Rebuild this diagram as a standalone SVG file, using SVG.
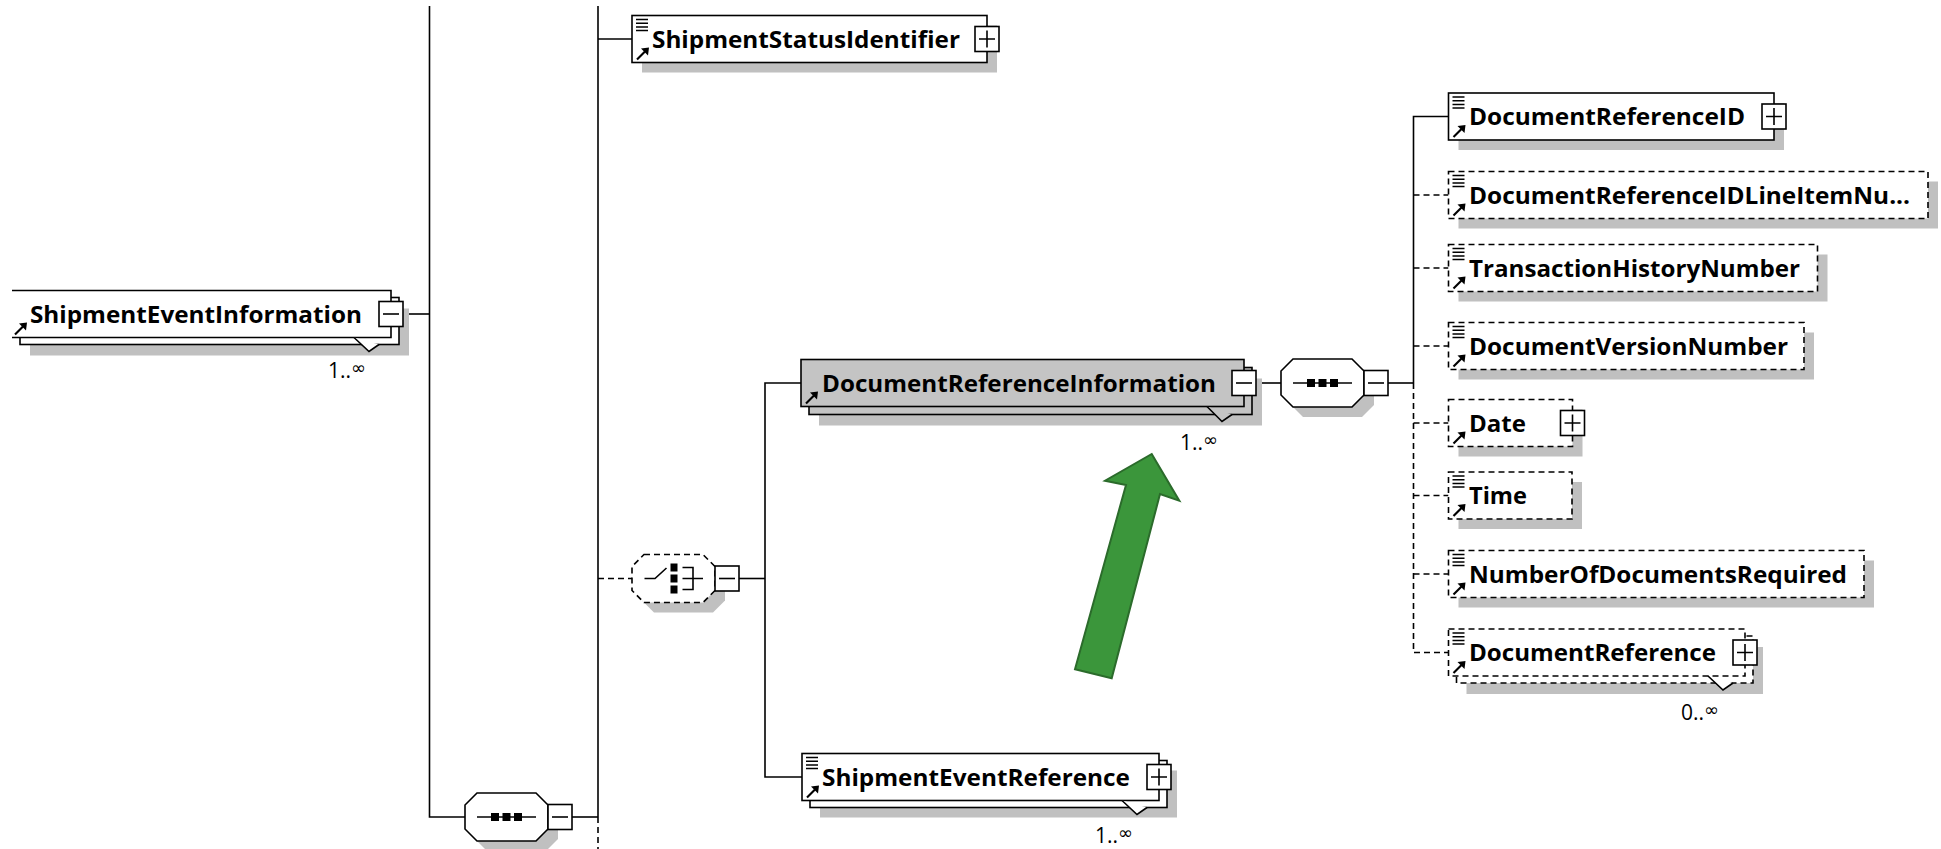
<svg xmlns="http://www.w3.org/2000/svg" xmlns:xlink="http://www.w3.org/1999/xlink" width="1941" height="849" viewBox="0 0 1941 849">
<defs>
<style>
.ln{fill:none;stroke:#000;stroke-width:1.6}
.dl{fill:none;stroke:#000;stroke-width:1.6;stroke-dasharray:6 4}
.box{fill:#fff;stroke:#000;stroke-width:1.6}
.dbox{fill:#fff;stroke:#000;stroke-width:1.6;stroke-dasharray:6 4}
.gbox{fill:#c4c4c4;stroke:#000;stroke-width:1.6}
.sh{fill:#c0c0c0;stroke:none}
.pm{fill:#fff;stroke:#000;stroke-width:1.6}
.lbl{font-family:"Open Sans","Noto Sans","DejaVu Sans",sans-serif;font-weight:700;font-size:23px;fill:#000}
.mult{font-family:"Open Sans","Noto Sans","DejaVu Sans",sans-serif;font-size:21px;fill:#000}
.inf{font-family:"DejaVu Sans",sans-serif;font-size:18px}
.sq{fill:#000}
</style>
<g id="ico-list" class="ln"><path d="M0 0H12M0 3.7H12M0 7.4H12M0 11.1H12" style="stroke-width:1.5"/></g>
<g id="ico-ref"><path d="M0 0L8 -8" style="fill:none;stroke:#000;stroke-width:2.2"/><polygon points="12,-12 4,-11 11,-4" fill="#000"/></g>
</defs>

<g id="connectors">
<path class="ln" d="M403 314H429.5"/>
<path class="ln" d="M429.5 6V817H465"/>
<path class="ln" d="M572 817H598"/>
<path class="ln" d="M598 6V817"/>
<path class="dl" d="M598 817V849"/>
<path class="ln" d="M598 39H632"/>
<path class="dl" d="M598 578.5H632"/>
<path class="ln" d="M739 578.5H765"/>
<path class="ln" d="M801 383H765V777H802"/>
<path class="ln" d="M1256 383H1281"/>
<path class="ln" d="M1388 383H1413.5"/>
<path class="ln" d="M1448.5 116.5H1413.5V383"/>
<path class="dl" d="M1413.5 383V652.5H1448.5"/>
<path class="dl" d="M1413.5 195H1448.5M1413.5 268H1448.5M1413.5 346H1448.5M1413.5 423H1448.5M1413.5 495.5H1448.5M1413.5 574H1448.5"/>
</g>

<g id="node-ShipmentEventInformation">
<rect class="sh" x="30" y="308.5" width="379" height="47"/>
<rect class="box" x="20" y="297.5" width="379" height="47"/>
<rect x="12" y="290.5" width="379" height="47" fill="#fff"/>
<path class="ln" d="M12 290.5H391V337.5H12"/>
<path d="M354 337.5L369 351.5L379 344.5" fill="#fff" stroke="#000" stroke-width="1.6"/>
<use xlink:href="#ico-ref" x="15" y="334.5"/>
<text class="lbl" x="30" y="322.5" textLength="332" lengthAdjust="spacingAndGlyphs">ShipmentEventInformation</text>
<rect class="pm" x="379" y="301.5" width="24" height="25"/>
<path class="ln" d="M383 314H399"/>
<text class="mult" x="328" y="378">1..<tspan class="inf" dy="-4">∞</tspan></text>
</g>

<g id="node-ShipmentStatusIdentifier">
<rect class="sh" x="642" y="25.5" width="355" height="47"/>
<rect class="box" x="632" y="15.5" width="355" height="47"/>
<use xlink:href="#ico-list" x="636" y="19.5"/>
<use xlink:href="#ico-ref" x="637" y="59.5"/>
<text class="lbl" x="652" y="47.5" textLength="308" lengthAdjust="spacingAndGlyphs">ShipmentStatusIdentifier</text>
<rect class="pm" x="975" y="26.5" width="24" height="25"/>
<path class="ln" d="M979 39H995M987 30.5V47.5"/>
</g>

<g id="node-sequence-left">
<polygon class="sh" points="487,803 546,803 558,815 558,839 546,851 487,851 475,839 475,815"/>
<polygon class="box" points="477,793 536,793 548,805 548,829 536,841 477,841 465,829 465,805"/>
<path class="ln" d="M477 817H536"/>
<rect class="sq" x="491" y="813" width="8" height="8"/>
<rect class="sq" x="502.5" y="813" width="8" height="8"/>
<rect class="sq" x="514" y="813" width="8" height="8"/>
<rect class="pm" x="548" y="804.5" width="24" height="25"/>
<path class="ln" d="M552 817H568"/>
</g>

<g id="node-choice">
<polygon class="sh" points="654,564.5 713,564.5 725,576.5 725,600.5 713,612.5 654,612.5 642,600.5 642,576.5"/>
<polygon class="dbox" points="644,554.5 703,554.5 715,566.5 715,590.5 703,602.5 644,602.5 632,590.5 632,566.5"/>
<path class="ln" d="M644.5 578.5H655L666.5 568"/>
<rect class="sq" x="670.5" y="563.5" width="7" height="8"/>
<rect class="sq" x="670.5" y="574.5" width="7" height="8"/>
<rect class="sq" x="670.5" y="585.5" width="7" height="8"/>
<path class="ln" d="M682.5 567.5H693V589.5H682.5M682.5 578.5H703"/>
<rect class="pm" x="715" y="566" width="24" height="25"/>
<path class="ln" d="M719 578.5H735"/>
</g>

<g id="node-DocumentReferenceInformation">
<rect class="sh" x="819" y="378.5" width="443" height="47"/>
<rect class="gbox" x="809" y="367.5" width="443" height="47"/>
<rect class="gbox" x="801" y="359.5" width="443" height="47"/>
<path d="M1207 406.5L1222 421.5L1232 414.5" fill="#c4c4c4" stroke="#000" stroke-width="1.6"/>
<use xlink:href="#ico-ref" x="806" y="403.5"/>
<text class="lbl" x="822" y="391.5" textLength="394" lengthAdjust="spacingAndGlyphs">DocumentReferenceInformation</text>
<rect class="pm" x="1232" y="370.5" width="24" height="25"/>
<path class="ln" d="M1236 383H1252"/>
<text class="mult" x="1180" y="450">1..<tspan class="inf" dy="-4">∞</tspan></text>
</g>

<g id="node-ShipmentEventReference">
<rect class="sh" x="820" y="770.5" width="357" height="47"/>
<rect class="box" x="810" y="760.5" width="357" height="47"/>
<rect class="box" x="802" y="753.5" width="357" height="47"/>
<path d="M1122 800.5L1137 814.5L1147 807.5" fill="#fff" stroke="#000" stroke-width="1.6"/>
<use xlink:href="#ico-list" x="806" y="757.5"/>
<use xlink:href="#ico-ref" x="807" y="797.5"/>
<text class="lbl" x="822" y="785.5" textLength="308" lengthAdjust="spacingAndGlyphs">ShipmentEventReference</text>
<rect class="pm" x="1147" y="764.5" width="24" height="25"/>
<path class="ln" d="M1151 777H1167M1159 768.5V785.5"/>
<text class="mult" x="1095" y="843">1..<tspan class="inf" dy="-4">∞</tspan></text>
</g>

<g id="node-sequence-right">
<polygon class="sh" points="1303,369 1362,369 1374,381 1374,405 1362,417 1303,417 1291,405 1291,381"/>
<polygon class="box" points="1293,359 1352,359 1364,371 1364,395 1352,407 1293,407 1281,395 1281,371"/>
<path class="ln" d="M1293 383H1352"/>
<rect class="sq" x="1307" y="379" width="8" height="8"/>
<rect class="sq" x="1318.5" y="379" width="8" height="8"/>
<rect class="sq" x="1330" y="379" width="8" height="8"/>
<rect class="pm" x="1364" y="370.5" width="24" height="25"/>
<path class="ln" d="M1368 383H1384"/>
</g>

<g id="node-DocumentReferenceID">
<rect class="sh" x="1458.5" y="103" width="325.5" height="47"/>
<rect class="box" x="1448.5" y="93" width="325.5" height="47"/>
<use xlink:href="#ico-list" x="1452.5" y="97"/>
<use xlink:href="#ico-ref" x="1453.5" y="137"/>
<text class="lbl" x="1469" y="125" textLength="276" lengthAdjust="spacingAndGlyphs">DocumentReferenceID</text>
<rect class="pm" x="1762" y="104" width="24" height="25"/>
<path class="ln" d="M1766 116.5H1782M1774 108V125"/>
</g>

<g id="node-DocumentReferenceIDLineItemNumber">
<rect class="sh" x="1458.5" y="181.5" width="479.5" height="47"/>
<rect class="dbox" x="1448.5" y="171.5" width="479.5" height="47"/>
<use xlink:href="#ico-list" x="1452.5" y="175.5"/>
<use xlink:href="#ico-ref" x="1453.5" y="215.5"/>
<text class="lbl" x="1469" y="203.5" textLength="441" lengthAdjust="spacingAndGlyphs">DocumentReferenceIDLineItemNu...</text>
</g>

<g id="node-TransactionHistoryNumber">
<rect class="sh" x="1458.5" y="254.5" width="369" height="47"/>
<rect class="dbox" x="1448.5" y="244.5" width="369" height="47"/>
<use xlink:href="#ico-list" x="1452.5" y="248.5"/>
<use xlink:href="#ico-ref" x="1453.5" y="288.5"/>
<text class="lbl" x="1469" y="276.5" textLength="331" lengthAdjust="spacingAndGlyphs">TransactionHistoryNumber</text>
</g>

<g id="node-DocumentVersionNumber">
<rect class="sh" x="1458.5" y="332.5" width="355.5" height="47"/>
<rect class="dbox" x="1448.5" y="322.5" width="355.5" height="47"/>
<use xlink:href="#ico-list" x="1452.5" y="326.5"/>
<use xlink:href="#ico-ref" x="1453.5" y="366.5"/>
<text class="lbl" x="1469" y="354.5" textLength="319" lengthAdjust="spacingAndGlyphs">DocumentVersionNumber</text>
</g>

<g id="node-Date">
<rect class="sh" x="1458.5" y="409.5" width="124" height="47"/>
<rect class="dbox" x="1448.5" y="399.5" width="124" height="47"/>
<use xlink:href="#ico-ref" x="1453.5" y="443.5"/>
<text class="lbl" x="1469" y="431.5" textLength="57" lengthAdjust="spacingAndGlyphs">Date</text>
<rect class="pm" x="1560.5" y="410.5" width="24" height="25"/>
<path class="ln" d="M1564.5 423H1580.5M1572.5 414.5V431.5"/>
</g>

<g id="node-Time">
<rect class="sh" x="1458.5" y="482" width="123.5" height="47"/>
<rect class="dbox" x="1448.5" y="472" width="123.5" height="47"/>
<use xlink:href="#ico-list" x="1452.5" y="476"/>
<use xlink:href="#ico-ref" x="1453.5" y="516"/>
<text class="lbl" x="1469" y="504" textLength="58" lengthAdjust="spacingAndGlyphs">Time</text>
</g>

<g id="node-NumberOfDocumentsRequired">
<rect class="sh" x="1458.5" y="560.5" width="415.5" height="47"/>
<rect class="dbox" x="1448.5" y="550.5" width="415.5" height="47"/>
<use xlink:href="#ico-list" x="1452.5" y="554.5"/>
<use xlink:href="#ico-ref" x="1453.5" y="594.5"/>
<text class="lbl" x="1469" y="582.5" textLength="378" lengthAdjust="spacingAndGlyphs">NumberOfDocumentsRequired</text>
</g>

<g id="node-DocumentReference">
<rect class="sh" x="1466.5" y="647" width="296.5" height="47"/>
<rect class="dbox" x="1456.5" y="636" width="296.5" height="47"/>
<rect class="dbox" x="1448.5" y="629" width="296.5" height="47"/>
<path d="M1708 676L1723 690L1733 683" fill="#fff" stroke="#000" stroke-width="1.6"/>
<use xlink:href="#ico-list" x="1452.5" y="633"/>
<use xlink:href="#ico-ref" x="1453.5" y="673"/>
<text class="lbl" x="1469" y="661" textLength="247" lengthAdjust="spacingAndGlyphs">DocumentReference</text>
<rect class="pm" x="1733" y="640" width="24" height="25"/>
<path class="ln" d="M1737 652.5H1753M1745 644V661"/>
<text class="mult" x="1681" y="720">0..<tspan class="inf" dy="-4">∞</tspan></text>
</g>

<g id="highlight-arrow">
<polygon points="1151.7,454 1179.3,500.7 1160,494 1111.7,678.3 1075,669.3 1126,485 1105,480.7" fill="#3b963b" stroke="#2b6b2b" stroke-width="2"/>
</g>
</svg>
